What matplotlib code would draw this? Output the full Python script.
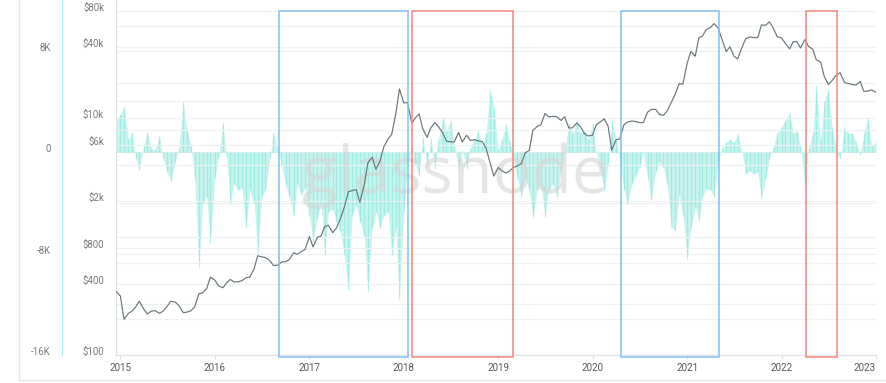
import matplotlib
matplotlib.use("Agg")
import matplotlib.pyplot as plt
import matplotlib.transforms as mtransforms
from matplotlib.patches import Rectangle
from matplotlib.lines import Line2D
from matplotlib.ticker import NullFormatter
import numpy as np
import pandas as pd

plt.rcParams["font.family"] = ["Roboto", "DejaVu Sans"]

# samples on the 1st and 15th of each month, 2014-12-15 .. 2023-01-01
dates = pd.date_range("2014-12-15", "2023-01-01", freq="SMS")

# BTC price (USD)
price_2014 = [345]
price_2015 = [315, 200, 225, 235, 255, 285, 245, 222, 235, 237, 225, 235,
              258, 285, 280, 262, 228, 230, 237, 255, 330, 335, 365, 455]
price_2016 = [430, 385, 370, 405, 435, 415, 415, 425, 450, 455, 535, 690,
              675, 665, 625, 570, 575, 610, 615, 640, 730, 710, 750, 780]
price_2017 = [1000, 820, 990, 1010, 1220, 1250, 1080, 1180, 1420, 1750, 2400, 2450,
              2500, 1950, 2730, 4200, 4700, 3700, 4350, 5700, 6700, 7300, 10900, 17700]
price_2018 = [13500, 13600, 9100, 10100, 10900, 8200, 6900, 8300, 9200, 8500, 7500, 6400,
              6350, 6300, 7600, 6300, 7200, 6500, 6600, 6450, 6350, 5600, 4200, 3250]
price_2019 = [3850, 3600, 3450, 3600, 3850, 3950, 4150, 5100, 5350, 7900, 8550, 8800,
              11000, 10300, 10400, 10300, 9600, 10300, 8300, 8300, 9150, 8500, 7400, 7100]
price_2020 = [7200, 8800, 9400, 9900, 8600, 5400, 6600, 6700, 8800, 9300, 9500, 9400,
              9200, 9200, 11300, 11900, 11900, 10800, 10600, 11500, 13700, 15900, 19700, 19400]
price_2021 = [29300, 36800, 33500, 47900, 49600, 56000, 58800, 63200, 57800, 46800, 36600, 40200,
              33500, 31800, 39900, 47000, 48800, 48100, 48200, 61500, 61300, 65500, 57200, 48900]
price_2022 = [47700, 43100, 38700, 44500, 44400, 39300, 46300, 40500, 38500, 31300, 29800, 22500,
              19300, 20800, 23300, 24300, 20100, 19700, 19300, 19100, 20500, 16900, 17000, 17400]
price_2023 = [16600]

# netflow (thousands of BTC)
flow_2014 = [2.4]
flow_2015 = [3.0, 3.6, 1.0, 1.5, -0.5, -1.4, 0.5, 1.6, 0.3, 0.2, 1.3, -0.5,
             -1.6, -2.3, -0.8, 0.3, 4.0, 1.8, 0.6, -2.0, -9.1, -4.0, -3.5, -7.2]
flow_2016 = [-2.0, -0.5, 2.4, -0.3, -4.1, -2.5, -3.0, -2.8, -5.9, -3.0, -4.0, -8.0,
             -3.5, -3.0, -0.5, 1.5, 0.3, -1.0, -2.6, -3.5, -5.0, -2.5, -3.4, -2.8]
flow_2017 = [-5.0, -7.1, -5.2, -4.0, -8.1, -4.7, -4.5, -5.5, -6.3, -8.0, -10.9, -5.0,
             -4.2, -5.5, -6.6, -11.0, -6.0, -4.7, -6.0, -5.0, -4.7, -8.1, -6.0, -11.6]
flow_2018 = [-4.7, -1.0, 0.5, -1.0, -1.9, 1.2, -1.1, 1.1, -1.3, 1.0, 2.8, 1.7,
             2.5, 0.5, -1.3, 0.2, -1.3, 0.3, 1.0, 1.7, 0.5, 1.5, 4.9, 3.6]
flow_2019 = [0.2, 1.0, 2.2, 0.8, -0.5, -2.0, -3.5, -2.0, -3.0, -5.1, -3.0, -2.5,
             -5.1, -3.0, -2.5, -3.5, -1.5, 0.0, 2.3, 1.5, 2.5, 1.5, 1.7, 1.0]
flow_2020 = [2.3, 0.0, -1.5, -3.1, -1.0, 2.5, 1.0, -0.5, -3.0, -4.1, -2.5, -1.9,
             -1.2, 0.0, -2.0, -3.8, -1.5, -0.8, -1.2, -2.5, -5.9, -6.2, -3.3, -5.0]
flow_2021 = [-8.4, -6.0, -4.3, -5.4, -3.5, -2.9, -3.0, -3.5, -0.8, 0.3, 0.8, 1.0,
             0.8, 1.4, 0.0, -1.7, -1.5, -1.7, -1.6, -3.7, -2.0, -0.5, 0.5, 1.5]
flow_2022 = [2.0, 2.5, 3.1, 1.5, 1.7, 0.5, -2.7, 0.3, 1.5, 5.3, 1.0, 4.0,
             5.0, 2.0, 0.0, -0.5, 2.0, 1.5, 1.5, 0.8, -0.2, 1.5, 2.7, 0.5]
flow_2023 = [0.8]

price = np.array(price_2014 + price_2015 + price_2016 + price_2017 + price_2018
                 + price_2019 + price_2020 + price_2021 + price_2022 + price_2023, float)
flow = np.array(flow_2014 + flow_2015 + flow_2016 + flow_2017 + flow_2018
                + flow_2019 + flow_2020 + flow_2021 + flow_2022 + flow_2023, float)

# highlighted periods
box_start = ["2016-09-06", "2018-02-01", "2020-04-20", "2022-04-06"]
box_end = ["2018-01-19", "2019-02-28", "2021-05-03", "2022-08-03"]
box_color = ["#80c0f6", "#f5857c", "#80c0f6", "#f5857c"]

flow_ticks = [-16, -8, 0, 8]
flow_labels = ["-16K", "-8K", "0", "8K"]
price_ticks = [100, 400, 800, 2000, 6000, 10000, 40000, 80000]
price_labels = ["$100", "$400", "$800", "$2k", "$6k", "$10k", "$40k", "$80k"]
price_grid = [200, 600, 1000, 4000, 8000, 20000, 60000]
years = list(range(2015, 2024))

W, H = 886, 383
fig = plt.figure(figsize=(W / 100, H / 100), dpi=100)
ax = fig.add_axes([116 / W, (H - 355) / H, 760 / W, 355 / H])

tick_col = "#7a7a7a"
grid_col = "#eef1f3"

# netflow
ax.fill_between(dates, 0, flow, color="#6fe3d9", alpha=0.38, lw=0, zorder=2)
ax.vlines(dates, 0, flow, color="#45d6c9", lw=0.9, alpha=0.3, zorder=2)
ax.set_ylim(-16, 12)
ax.set_xlim(dates[0], dates[-1])
ax.grid(axis="y", which="both", color=grid_col, lw=0.8)
ax.set_axisbelow(True)
ax.spines["left"].set_position(("outward", 54 * 0.72))
ax.spines["left"].set_color("#b3ecf2")
ax.spines["left"].set_linewidth(1.0)
ax.spines["right"].set_visible(False)
ax.spines["top"].set_visible(False)
ax.spines["bottom"].set_color("#dde2e6")

ax.set_xticks(pd.to_datetime([f"{y}-01-01" for y in years]), [str(y) for y in years])
ax.tick_params(axis="x", length=3, color="#dde2e6", pad=3, labelsize=7, labelcolor="#555555")
ax.get_xticklabels()[-1].set_ha("right")

# price
axp = ax.twinx()
axp.set_yscale("log")
axp.set_ylim(100, 100000)
axp.yaxis.tick_left()
axp.yaxis.set_label_position("left")
axp.set_yticks(price_ticks, price_labels)
axp.set_yticks(price_grid, minor=True)
axp.yaxis.set_minor_formatter(NullFormatter())
axp.tick_params(axis="y", which="both", length=0, pad=8.6, labelsize=7, labelcolor=tick_col)
for lbl in axp.get_yticklabels():
    lbl.set_va("baseline")
axp.grid(axis="y", which="both", color=grid_col, lw=0.8, zorder=0)
axp.spines["left"].set_visible(True)
axp.spines["left"].set_color("#dde2e6")
axp.spines["right"].set_visible(False)
axp.spines["top"].set_visible(False)
axp.spines["bottom"].set_visible(False)

# netflow ticks after twinx (twinx resets the left ticks)
ax.set_yticks(flow_ticks, flow_labels)
ax.set_yticks([-12, -4, 4], minor=True)
ax.yaxis.set_minor_formatter(NullFormatter())
ax.tick_params(axis="y", which="both", length=0, pad=8, labelsize=7, labelcolor=tick_col)
for lbl in ax.get_yticklabels():
    lbl.set_va("baseline")

axp.text(0.446, 0.456, "glassnode", transform=axp.transAxes, ha="center", va="baseline",
         fontsize=47, family="Open Sans", color="#d4d4d4", alpha=0.6, zorder=3)

axp.plot(dates, price, color="#67767a", lw=0.85, zorder=4)

trans = mtransforms.blended_transform_factory(axp.transData, axp.transAxes)
for s, e, c in zip(box_start, box_end, box_color):
    x0 = pd.Timestamp(s)
    x1 = pd.Timestamp(e)
    axp.add_patch(Rectangle((x0, -0.006), x1 - x0, 0.976, transform=trans,
                            fill=False, edgecolor=c, lw=1.1, clip_on=False, zorder=5))

# outer frame of the screenshot
fig.add_artist(Line2D([19 / W, 19 / W], [(H - 380) / H, 1], color="#e6e8ea", lw=1,
                      transform=fig.transFigure))
fig.add_artist(Line2D([19 / W, 1], [(H - 380) / H, (H - 380) / H], color="#e6e8ea", lw=1,
                      transform=fig.transFigure))

fig.savefig("out.png", dpi=100)
